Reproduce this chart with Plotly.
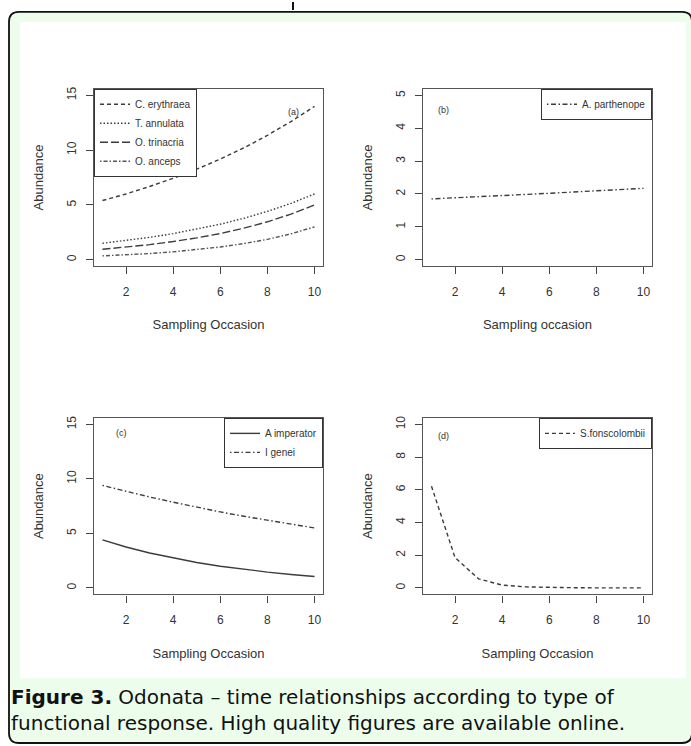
import plotly.graph_objects as go

W, H = 691, 746

# ---------------- data ----------------
occasion = [1, 2, 3, 4, 5, 6, 7, 8, 9, 10]

c_erythraea = [5.4, 6.0, 6.68, 7.43, 8.26, 9.18, 10.2, 11.35, 12.6, 14.0]
t_annulata = [1.5, 1.75, 2.04, 2.38, 2.78, 3.24, 3.78, 4.41, 5.14, 6.0]
o_trinacria = [0.95, 1.14, 1.38, 1.66, 1.99, 2.39, 2.88, 3.46, 4.16, 5.0]
o_anceps = [0.35, 0.44, 0.56, 0.72, 0.91, 1.16, 1.47, 1.86, 2.36, 3.0]

a_parthenope = [1.85, 1.88, 1.92, 1.95, 1.99, 2.02, 2.06, 2.10, 2.13, 2.17]

a_imperator = [4.4, 3.75, 3.2, 2.73, 2.33, 1.99, 1.70, 1.45, 1.23, 1.05]
i_genei = [9.4, 8.85, 8.34, 7.86, 7.40, 6.97, 6.57, 6.19, 5.83, 5.5]

s_fonscolombii = [6.22, 1.85, 0.55, 0.17, 0.06, 0.02, 0.01, 0.0, 0.0, 0.0]

x_ticks = [2, 4, 6, 8, 10]
y_ticks_a = [0, 5, 10, 15]
y_ticks_b = [0, 1, 2, 3, 4, 5]
y_ticks_c = [0, 5, 10, 15]
y_ticks_d = [0, 2, 4, 6, 8, 10]

# ---------------- helpers ----------------
def px(x):
    return x / W


def py(y):
    return 1 - y / H


LINE = "#3c3c3c"
FONT = "Liberation Sans, Arial, sans-serif"
CAPFONT = "DejaVu Sans, Open Sans, sans-serif"

fig = go.Figure()


def add(y, name, dash, xa, ya, legend, color=LINE):
    fig.add_trace(go.Scatter(
        x=occasion, y=y, name=name, mode="lines",
        line=dict(color=color, width=1.4, dash=dash),
        xaxis=xa, yaxis=ya, legend=legend,
    ))


add(c_erythraea, "C. erythraea", "4px,3px", "x", "y", "legend")
add(t_annulata, "T. annulata", "1.5px,2px", "x", "y", "legend")
add(o_trinacria, "O. trinacria", "8px,3px", "x", "y", "legend")
add(o_anceps, "O. anceps", "1.5px,2px,4px,2px", "x", "y", "legend", "#555555")
add(a_parthenope, "A. parthenope", "1.5px,2.5px,5px,2.5px", "x2", "y2", "legend2")
add(a_imperator, "A imperator", "solid", "x3", "y3", "legend3")
add(i_genei, "I genei", "1.5px,2.5px,5px,2.5px", "x3", "y3", "legend3")
add(s_fonscolombii, "S.fonscolombii", "4px,3px", "x4", "y4", "legend4")

# panel boxes in pixel coordinates (left, top, right, bottom)
boxes = {
    "1": (94, 87, 323, 265),
    "2": (423, 87, 652, 265),
    "3": (94, 417, 323, 594),
    "4": (423, 417, 652, 594),
}
yranges = {"1": [-0.6, 15.6], "2": [-0.2, 5.2], "3": [-0.6, 15.6], "4": [-0.4, 10.4]}
yticks = {"1": y_ticks_a, "2": y_ticks_b, "3": y_ticks_c, "4": y_ticks_d}
xtitles = {"1": "Sampling Occasion", "2": "Sampling occasion",
           "3": "Sampling Occasion", "4": "Sampling Occasion"}

axis_common = dict(
    showline=True, mirror=True, linecolor="#555555", linewidth=1.2,
    ticks="outside", ticklen=7, tickwidth=1.2, tickcolor="#444444",
    showgrid=False, zeroline=False,
    tickfont=dict(family=FONT, size=12, color="#333333"),
)

layout_axes = {}
for k, (l, t, r, b) in boxes.items():
    xname = "xaxis" if k == "1" else f"xaxis{k}"
    yname = "yaxis" if k == "1" else f"yaxis{k}"
    anchor_x = "x" if k == "1" else f"x{k}"
    anchor_y = "y" if k == "1" else f"y{k}"
    layout_axes[xname] = dict(
        domain=[px(l), px(r)], anchor=anchor_y, range=[0.64, 10.36],
        tickvals=x_ticks, ticklabelstandoff=7,
        title=dict(text=xtitles[k], standoff=22,
                   font=dict(family=FONT, size=13, color="#333333")),
        **axis_common,
    )
    layout_axes[yname] = dict(
        domain=[py(b), py(t)], anchor=anchor_x, range=yranges[k],
        tickvals=yticks[k], tickangle=-90, ticklabelstandoff=5,
        title=dict(text="Abundance", standoff=18,
                   font=dict(family=FONT, size=13, color="#333333")),
        **axis_common,
    )

legend_common = dict(
    bgcolor="white", bordercolor="#333333", borderwidth=1,
    font=dict(family=FONT, size=10, color="#333333"),
    tracegroupgap=0, itemwidth=30,
)

shapes = [
    # outer rounded green box
    dict(type="path", xref="paper", yref="paper", layer="below",
         path=(f"M {px(19)},{py(10)} L {px(682)},{py(10)} "
               f"Q {px(692)},{py(10)} {px(692)},{py(20)} "
               f"L {px(692)},{py(733)} Q {px(692)},{py(743)} {px(682)},{py(743)} "
               f"L {px(19)},{py(743)} Q {px(9)},{py(743)} {px(9)},{py(733)} "
               f"L {px(9)},{py(20)} Q {px(9)},{py(10)} {px(19)},{py(10)} Z"),
         fillcolor="#ecfdec", line=dict(color="#111111", width=1.8)),
    # white figure area
    dict(type="rect", xref="paper", yref="paper", layer="below",
         x0=px(20), x1=px(686), y0=py(678), y1=py(20),
         fillcolor="white", line=dict(width=0)),
    # small connector at top
    dict(type="line", xref="paper", yref="paper",
         x0=px(293), x1=px(293), y0=py(0), y1=py(8),
         line=dict(color="#111111", width=2)),
]

lbl_font = dict(family=FONT, size=9, color="#333333")
cap_font = dict(family=CAPFONT, size=20, color="#111111")
annotations = [
    dict(text="(a)", x=px(293), y=py(103), xref="paper", yref="paper",
         showarrow=False, font=lbl_font),
    dict(text="(b)", x=px(443), y=py(101), xref="paper", yref="paper",
         showarrow=False, font=lbl_font),
    dict(text="(c)", x=px(114), y=py(432), xref="paper", yref="paper",
         showarrow=False, font=lbl_font),
    dict(text="(d)", x=px(443), y=py(435), xref="paper", yref="paper",
         showarrow=False, font=lbl_font),
    dict(text=("<b>Figure 3.</b> Odonata – time relationships according to type of<br>"
               "functional response. High quality figures are available online."),
         x=px(9), y=py(710), xref="paper", yref="paper", xanchor="left",
         yanchor="middle", align="left", showarrow=False, font=cap_font),
]

fig.update_layout(
    width=W, height=H, margin=dict(l=0, r=0, t=0, b=0),
    paper_bgcolor="white", plot_bgcolor="white",
    showlegend=True,
    legend=dict(x=px(94), y=py(87), xanchor="left", yanchor="top", **legend_common),
    legend2=dict(x=px(652), y=py(87), xanchor="right", yanchor="top", **legend_common),
    legend3=dict(x=px(323), y=py(417), xanchor="right", yanchor="top", **legend_common),
    legend4=dict(x=px(652), y=py(417), xanchor="right", yanchor="top", **legend_common),
    shapes=shapes, annotations=annotations,
    **layout_axes,
)

fig.write_html("out.html", config={"displayModeBar": False},
               post_script="document.body.style.margin='0px';document.body.style.overflow='hidden';")
